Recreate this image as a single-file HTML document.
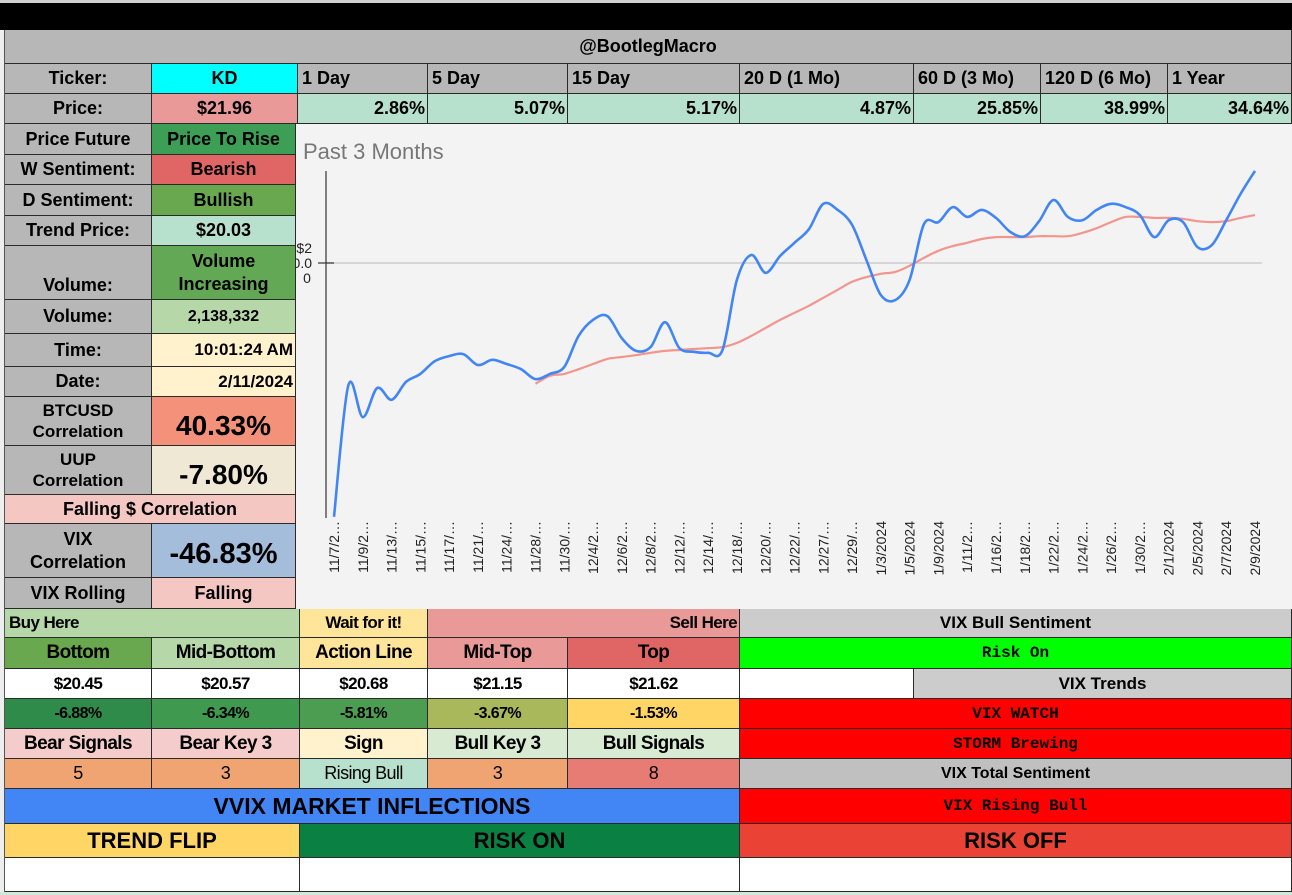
<!DOCTYPE html>
<html><head><meta charset="utf-8">
<style>
body{margin:0;width:1292px;height:895px;position:relative;overflow:hidden;background:#fff;font-family:"Liberation Sans",Arial,sans-serif;}
.c{position:absolute;display:flex;align-items:center;justify-content:center;box-sizing:border-box;border-right:1px solid #2a2a2a;border-bottom:1px solid #2a2a2a;font-weight:bold;font-size:18px;color:#000;text-align:center;line-height:1.25;overflow:hidden;white-space:nowrap}
.n{font-size:17px;letter-spacing:-0.6px}
.m{font-family:"Liberation Mono","DejaVu Sans Mono",monospace;font-size:16px;font-weight:bold}
.r{justify-content:flex-end;padding-right:2px}
.l{justify-content:flex-start;padding-left:4px}
</style></head><body>
<div style="position:absolute;left:0;top:0;width:1292px;height:3px;background:#d0d0d0"></div>
<div style="position:absolute;left:0;top:3px;width:1292px;height:27px;background:#000"></div>
<div style="position:absolute;left:0;top:30px;width:5px;height:865px;background:#eee;border-right:1px solid #555;box-sizing:border-box"></div>

<div class="c" style="left:5px;top:30px;width:1287px;height:34px;background:#b7b7b7">@BootlegMacro</div>

<div class="c" style="left:5px;top:64px;width:147px;height:30px;background:#b7b7b7">Ticker:</div>
<div class="c" style="left:152px;top:64px;width:146px;height:30px;background:#00ffff">KD</div>
<div class="c l" style="left:298px;top:64px;width:130px;height:30px;background:#b7b7b7">1 Day</div>
<div class="c l" style="left:428px;top:64px;width:140px;height:30px;background:#b7b7b7">5 Day</div>
<div class="c l" style="left:568px;top:64px;width:172px;height:30px;background:#b7b7b7">15 Day</div>
<div class="c l" style="left:740px;top:64px;width:174px;height:30px;background:#b7b7b7">20 D (1 Mo)</div>
<div class="c l" style="left:914px;top:64px;width:127px;height:30px;background:#b7b7b7">60 D (3 Mo)</div>
<div class="c l" style="left:1041px;top:64px;width:127px;height:30px;background:#b7b7b7">120 D (6 Mo)</div>
<div class="c l" style="left:1168px;top:64px;width:124px;height:30px;background:#b7b7b7">1 Year</div>

<div class="c" style="left:5px;top:94px;width:147px;height:30px;background:#b7b7b7">Price:</div>
<div class="c" style="left:152px;top:94px;width:146px;height:30px;background:#ea9999">$21.96</div>
<div class="c r" style="left:298px;top:94px;width:130px;height:30px;background:#b7e1cd">2.86%</div>
<div class="c r" style="left:428px;top:94px;width:140px;height:30px;background:#b7e1cd">5.07%</div>
<div class="c r" style="left:568px;top:94px;width:172px;height:30px;background:#b7e1cd">5.17%</div>
<div class="c r" style="left:740px;top:94px;width:174px;height:30px;background:#b7e1cd">4.87%</div>
<div class="c r" style="left:914px;top:94px;width:127px;height:30px;background:#b7e1cd">25.85%</div>
<div class="c r" style="left:1041px;top:94px;width:127px;height:30px;background:#b7e1cd">38.99%</div>
<div class="c r" style="left:1168px;top:94px;width:124px;height:30px;background:#b7e1cd">34.64%</div>

<div class="c" style="left:5px;top:124px;width:147px;height:31px;background:#b7b7b7">Price Future</div>
<div class="c" style="left:152px;top:124px;width:144px;height:31px;background:#3c9f55">Price To Rise</div>
<div class="c" style="left:5px;top:155px;width:147px;height:30px;background:#b7b7b7">W Sentiment:</div>
<div class="c" style="left:152px;top:155px;width:144px;height:30px;background:#e06666">Bearish</div>
<div class="c" style="left:5px;top:185px;width:147px;height:31px;background:#b7b7b7">D Sentiment:</div>
<div class="c" style="left:152px;top:185px;width:144px;height:31px;background:#6aa84f">Bullish</div>
<div class="c" style="left:5px;top:216px;width:147px;height:30px;background:#b7b7b7">Trend Price:</div>
<div class="c" style="left:152px;top:216px;width:144px;height:30px;background:#b7e1cd">$20.03</div>
<div class="c" style="left:5px;top:246px;width:147px;height:54px;background:#b7b7b7;align-items:flex-end;padding-bottom:3px">Volume:</div>
<div class="c" style="left:152px;top:246px;width:144px;height:54px;background:#63a855;white-space:normal">Volume<br>Increasing</div>
<div class="c" style="left:5px;top:300px;width:147px;height:34px;background:#b7b7b7">Volume:</div>
<div class="c" style="left:152px;top:300px;width:144px;height:34px;background:#b6d7a8;font-size:16px">2,138,332</div>
<div class="c" style="left:5px;top:334px;width:147px;height:33px;background:#b7b7b7">Time:</div>
<div class="c r" style="left:152px;top:334px;width:144px;height:33px;background:#fff2cc;font-size:17px">10:01:24 AM</div>
<div class="c" style="left:5px;top:367px;width:147px;height:30px;background:#b7b7b7">Date:</div>
<div class="c r" style="left:152px;top:367px;width:144px;height:30px;background:#fff2cc;font-size:17px">2/11/2024</div>
<div class="c" style="left:5px;top:397px;width:147px;height:49px;background:#b7b7b7;font-size:17px">BTCUSD<br>Correlation</div>
<div class="c" style="left:152px;top:397px;width:144px;height:49px;background:#f4917b;font-size:28px;padding-top:8px">40.33%</div>
<div class="c" style="left:5px;top:446px;width:147px;height:49px;background:#b7b7b7;font-size:17px">UUP<br>Correlation</div>
<div class="c" style="left:152px;top:446px;width:144px;height:49px;background:#efe8d4;font-size:28px;padding-top:8px">-7.80%</div>
<div class="c" style="left:5px;top:495px;width:291px;height:29px;background:#f4c7c3">Falling $ Correlation</div>
<div class="c" style="left:5px;top:524px;width:147px;height:54px;background:#b7b7b7">VIX<br>Correlation</div>
<div class="c" style="left:152px;top:524px;width:144px;height:54px;background:#a4bddb;font-size:29px;padding-top:8px">-46.83%</div>
<div class="c" style="left:5px;top:578px;width:147px;height:31px;background:#b7b7b7">VIX Rolling</div>
<div class="c" style="left:152px;top:578px;width:144px;height:31px;background:#f4c7c3">Falling</div>

<svg id="chart" style="position:absolute;left:296px;top:124px" width="996" height="485" viewBox="296 124 996 485">
<rect x="296" y="124" width="996" height="485" fill="#f3f3f3"/>
<text x="303" y="159" font-size="22" fill="#777" font-family="Liberation Sans, sans-serif">Past 3 Months</text>
</svg>

<!-- bottom table -->
<div class="c n l" style="left:5px;top:609px;width:295px;height:29px;background:#b6d7a8">Buy Here</div>
<div class="c n" style="left:300px;top:609px;width:128px;height:29px;background:#ffe599">Wait for it!</div>
<div class="c n r" style="left:428px;top:609px;width:312px;height:29px;background:#ea9999">Sell Here</div>
<div class="c n" style="left:5px;top:638px;width:147px;height:31px;background:#6aa84f;font-size:19px">Bottom</div>
<div class="c n" style="left:152px;top:638px;width:148px;height:31px;background:#b6d7a8;font-size:19px">Mid-Bottom</div>
<div class="c n" style="left:300px;top:638px;width:128px;height:31px;background:#ffe599;font-size:19px">Action Line</div>
<div class="c n" style="left:428px;top:638px;width:140px;height:31px;background:#ea9999;font-size:19px">Mid-Top</div>
<div class="c n" style="left:568px;top:638px;width:172px;height:31px;background:#e06666;font-size:19px">Top</div>
<div class="c n" style="left:5px;top:669px;width:147px;height:30px;background:#fff">$20.45</div>
<div class="c n" style="left:152px;top:669px;width:148px;height:30px;background:#fff">$20.57</div>
<div class="c n" style="left:300px;top:669px;width:128px;height:30px;background:#fff">$20.68</div>
<div class="c n" style="left:428px;top:669px;width:140px;height:30px;background:#fff">$21.15</div>
<div class="c n" style="left:568px;top:669px;width:172px;height:30px;background:#fff">$21.62</div>
<div class="c n" style="left:5px;top:699px;width:147px;height:30px;background:#2e8b4a;font-size:16px">-6.88%</div>
<div class="c n" style="left:152px;top:699px;width:148px;height:30px;background:#3f9a4f;font-size:16px">-6.34%</div>
<div class="c n" style="left:300px;top:699px;width:128px;height:30px;background:#4c9c52;font-size:16px">-5.81%</div>
<div class="c n" style="left:428px;top:699px;width:140px;height:30px;background:#a8b85a;font-size:16px">-3.67%</div>
<div class="c n" style="left:568px;top:699px;width:172px;height:30px;background:#ffd666;font-size:16px">-1.53%</div>
<div class="c n" style="left:5px;top:729px;width:147px;height:30px;background:#f4cccc;font-size:19px">Bear Signals</div>
<div class="c n" style="left:152px;top:729px;width:148px;height:30px;background:#f4cccc;font-size:19px">Bear Key 3</div>
<div class="c n" style="left:300px;top:729px;width:128px;height:30px;background:#fff2cc;font-size:19px">Sign</div>
<div class="c n" style="left:428px;top:729px;width:140px;height:30px;background:#d9ead3;font-size:19px">Bull Key 3</div>
<div class="c n" style="left:568px;top:729px;width:172px;height:30px;background:#d9ead3;font-size:19px">Bull Signals</div>
<div class="c n" style="left:5px;top:759px;width:147px;height:30px;background:#f0a472;font-weight:normal;font-size:18px">5</div>
<div class="c n" style="left:152px;top:759px;width:148px;height:30px;background:#f0a472;font-weight:normal;font-size:18px">3</div>
<div class="c n" style="left:300px;top:759px;width:128px;height:30px;background:#b7e1cd;font-weight:normal;font-size:18px">Rising Bull</div>
<div class="c n" style="left:428px;top:759px;width:140px;height:30px;background:#f0a472;font-weight:normal;font-size:18px">3</div>
<div class="c n" style="left:568px;top:759px;width:172px;height:30px;background:#e67c73;font-weight:normal;font-size:18px">8</div>
<div class="c" style="left:5px;top:789px;width:735px;height:35px;background:#4285f4;font-size:23px">VVIX MARKET INFLECTIONS</div>
<div class="c" style="left:5px;top:824px;width:295px;height:34px;background:#ffd666;font-size:22px">TREND FLIP</div>
<div class="c" style="left:300px;top:824px;width:440px;height:34px;background:#0b8043;font-size:22px">RISK ON</div>
<div class="c" style="left:5px;top:858px;width:295px;height:34px;background:#fff"></div>
<div class="c" style="left:300px;top:858px;width:440px;height:34px;background:#fff"></div>

<div class="c" style="left:740px;top:609px;width:552px;height:29px;background:#cccccc;font-size:17px">VIX Bull Sentiment</div>
<div class="c m" style="left:740px;top:638px;width:552px;height:31px;background:#00ff00">Risk On</div>
<div class="c" style="left:740px;top:669px;width:174px;height:30px;background:#fff"></div>
<div class="c" style="left:914px;top:669px;width:378px;height:30px;background:#cccccc;font-size:17px">VIX Trends</div>
<div class="c m" style="left:740px;top:699px;width:552px;height:30px;background:#ff0000">VIX WATCH</div>
<div class="c m" style="left:740px;top:729px;width:552px;height:30px;background:#ff0000">STORM Brewing</div>
<div class="c" style="left:740px;top:759px;width:552px;height:30px;background:#c0c0c0;font-size:16px">VIX Total Sentiment</div>
<div class="c m" style="left:740px;top:789px;width:552px;height:35px;background:#ff0000">VIX Rising Bull</div>
<div class="c" style="left:740px;top:824px;width:552px;height:34px;background:#ea4335;font-size:22px">RISK OFF</div>
<div class="c" style="left:740px;top:858px;width:552px;height:34px;background:#fff"></div>
<div style="position:absolute;left:0;top:892px;width:1292px;height:3px;background:#cfe8dc"></div>

<script>
const dates = ["11/7/2023","11/8/2023","11/9/2023","11/10/2023","11/13/2023","11/14/2023","11/15/2023","11/16/2023","11/17/2023","11/20/2023","11/21/2023","11/22/2023","11/24/2023","11/27/2023","11/28/2023","11/29/2023","11/30/2023","12/1/2023","12/4/2023","12/5/2023","12/6/2023","12/7/2023","12/8/2023","12/11/2023","12/12/2023","12/13/2023","12/14/2023","12/15/2023","12/18/2023","12/19/2023","12/20/2023","12/21/2023","12/22/2023","12/26/2023","12/27/2023","12/28/2023","12/29/2023","1/2/2024","1/3/2024","1/4/2024","1/5/2024","1/8/2024","1/9/2024","1/10/2024","1/11/2024","1/12/2024","1/16/2024","1/17/2024","1/18/2024","1/19/2024","1/22/2024","1/23/2024","1/24/2024","1/25/2024","1/26/2024","1/29/2024","1/30/2024","1/31/2024","2/1/2024","2/2/2024","2/5/2024","2/6/2024","2/7/2024","2/8/2024","2/9/2024"];
const priceSeries = [14.60,17.40,16.72,17.34,17.09,17.47,17.64,17.91,18.02,18.06,17.83,17.94,17.85,17.74,17.53,17.64,17.79,18.45,18.79,18.87,18.40,18.13,18.21,18.74,18.19,18.11,18.09,18.15,19.64,20.17,19.79,20.15,20.43,20.72,21.26,21.13,20.81,20.06,19.32,19.21,19.64,20.83,20.87,21.19,20.98,21.13,20.96,20.66,20.57,20.89,21.34,20.98,20.91,21.13,21.26,21.19,21.02,20.55,20.91,20.87,20.34,20.38,20.91,21.47,21.96];
const trendSeries = [null,null,null,null,null,null,null,null,null,null,null,null,null,null,17.43,17.60,17.64,17.74,17.85,17.96,18.00,18.04,18.09,18.13,18.15,18.17,18.19,18.21,18.30,18.45,18.62,18.79,18.94,19.09,19.26,19.43,19.60,19.70,19.77,19.81,19.94,20.11,20.26,20.36,20.43,20.51,20.55,20.55,20.55,20.57,20.57,20.57,20.64,20.74,20.87,20.98,20.98,20.96,20.96,20.94,20.89,20.87,20.89,20.96,21.02];
const yTickValue = 20.00;

const svg = document.getElementById('chart');
const NS = 'http://www.w3.org/2000/svg';
const X0 = 334, X1 = 1255;
function xScale(i){ return X0 + (X1 - X0) * i / (dates.length - 1); }
function yScale(v){ return 263 - (v - yTickValue) * 47; }

function smoothPath(pts){
  let d = 'M' + pts[0][0].toFixed(1) + ',' + pts[0][1].toFixed(1);
  for (let i = 0; i < pts.length - 1; i++){
    const p0 = pts[i-1] || pts[i], p1 = pts[i], p2 = pts[i+1], p3 = pts[i+2] || p2;
    const c1x = p1[0] + (p2[0]-p0[0])/6, c1y = p1[1] + (p2[1]-p0[1])/6;
    const c2x = p2[0] - (p3[0]-p1[0])/6, c2y = p2[1] - (p3[1]-p1[1])/6;
    d += ' C' + c1x.toFixed(1)+','+c1y.toFixed(1)+' '+c2x.toFixed(1)+','+c2y.toFixed(1)+' '+p2[0].toFixed(1)+','+p2[1].toFixed(1);
  }
  return d;
}
function mk(tag, attrs){ const e = document.createElementNS(NS, tag); for (const k in attrs) e.setAttribute(k, attrs[k]); return e; }

const grid = mk('line', {x1:326, x2:1262, y1:yScale(yTickValue), y2:yScale(yTickValue), stroke:'#cccccc', 'stroke-width':1.5});


svg.appendChild(grid);
const axis = mk('line', {x1:326, x2:326, y1:171, y2:518, stroke:'#333', 'stroke-width':1.2});


svg.appendChild(axis);
const tick = mk('line', {x1:318, x2:334, y1:yScale(yTickValue), y2:yScale(yTickValue), stroke:'#333', 'stroke-width':1.2});


svg.appendChild(tick);
const tickParts = ['$2', '0.0', '0'];
tickParts.forEach((t, k) => {
  const tx = mk('text', {x: k === 2 ? 307 : 312, y: yScale(yTickValue) - 10 + k*15, 'text-anchor': k === 2 ? 'middle' : 'end', 'font-size':14, fill:'#222', 'font-family':'Liberation Sans, sans-serif'});
  tx.textContent = t;
  
  
  svg.appendChild(tx);
});

dates.forEach((d, i) => {
  if (i % 2 !== 0) return;
  const lab = d.length > 8 ? d.slice(0, 6) + '…' : d;
  const x = xScale(i) + 5, y = 521;
  const t = mk('text', {x: x, y: y, transform: 'rotate(-90 ' + x + ' ' + y + ')', 'text-anchor':'end', 'font-size':14, fill:'#222', 'font-family':'Liberation Sans, sans-serif'});
  t.textContent = lab;
  
  
  svg.appendChild(t);
});

const trendPts = [];
trendSeries.forEach((v, i) => { if (v !== null) trendPts.push([xScale(i), yScale(v)]); });
const trendLine = mk('path', {d: smoothPath(trendPts), fill:'none', stroke:'#f28b82', 'stroke-width':2.2, opacity:0.9});


svg.appendChild(trendLine);

const pricePts = priceSeries.map((v, i) => [xScale(i), yScale(v)]);
const priceLine = mk('path', {d: smoothPath(pricePts), fill:'none', stroke:'#4285f4', 'stroke-width':2.6});


svg.appendChild(priceLine);
</script>
</body></html>
